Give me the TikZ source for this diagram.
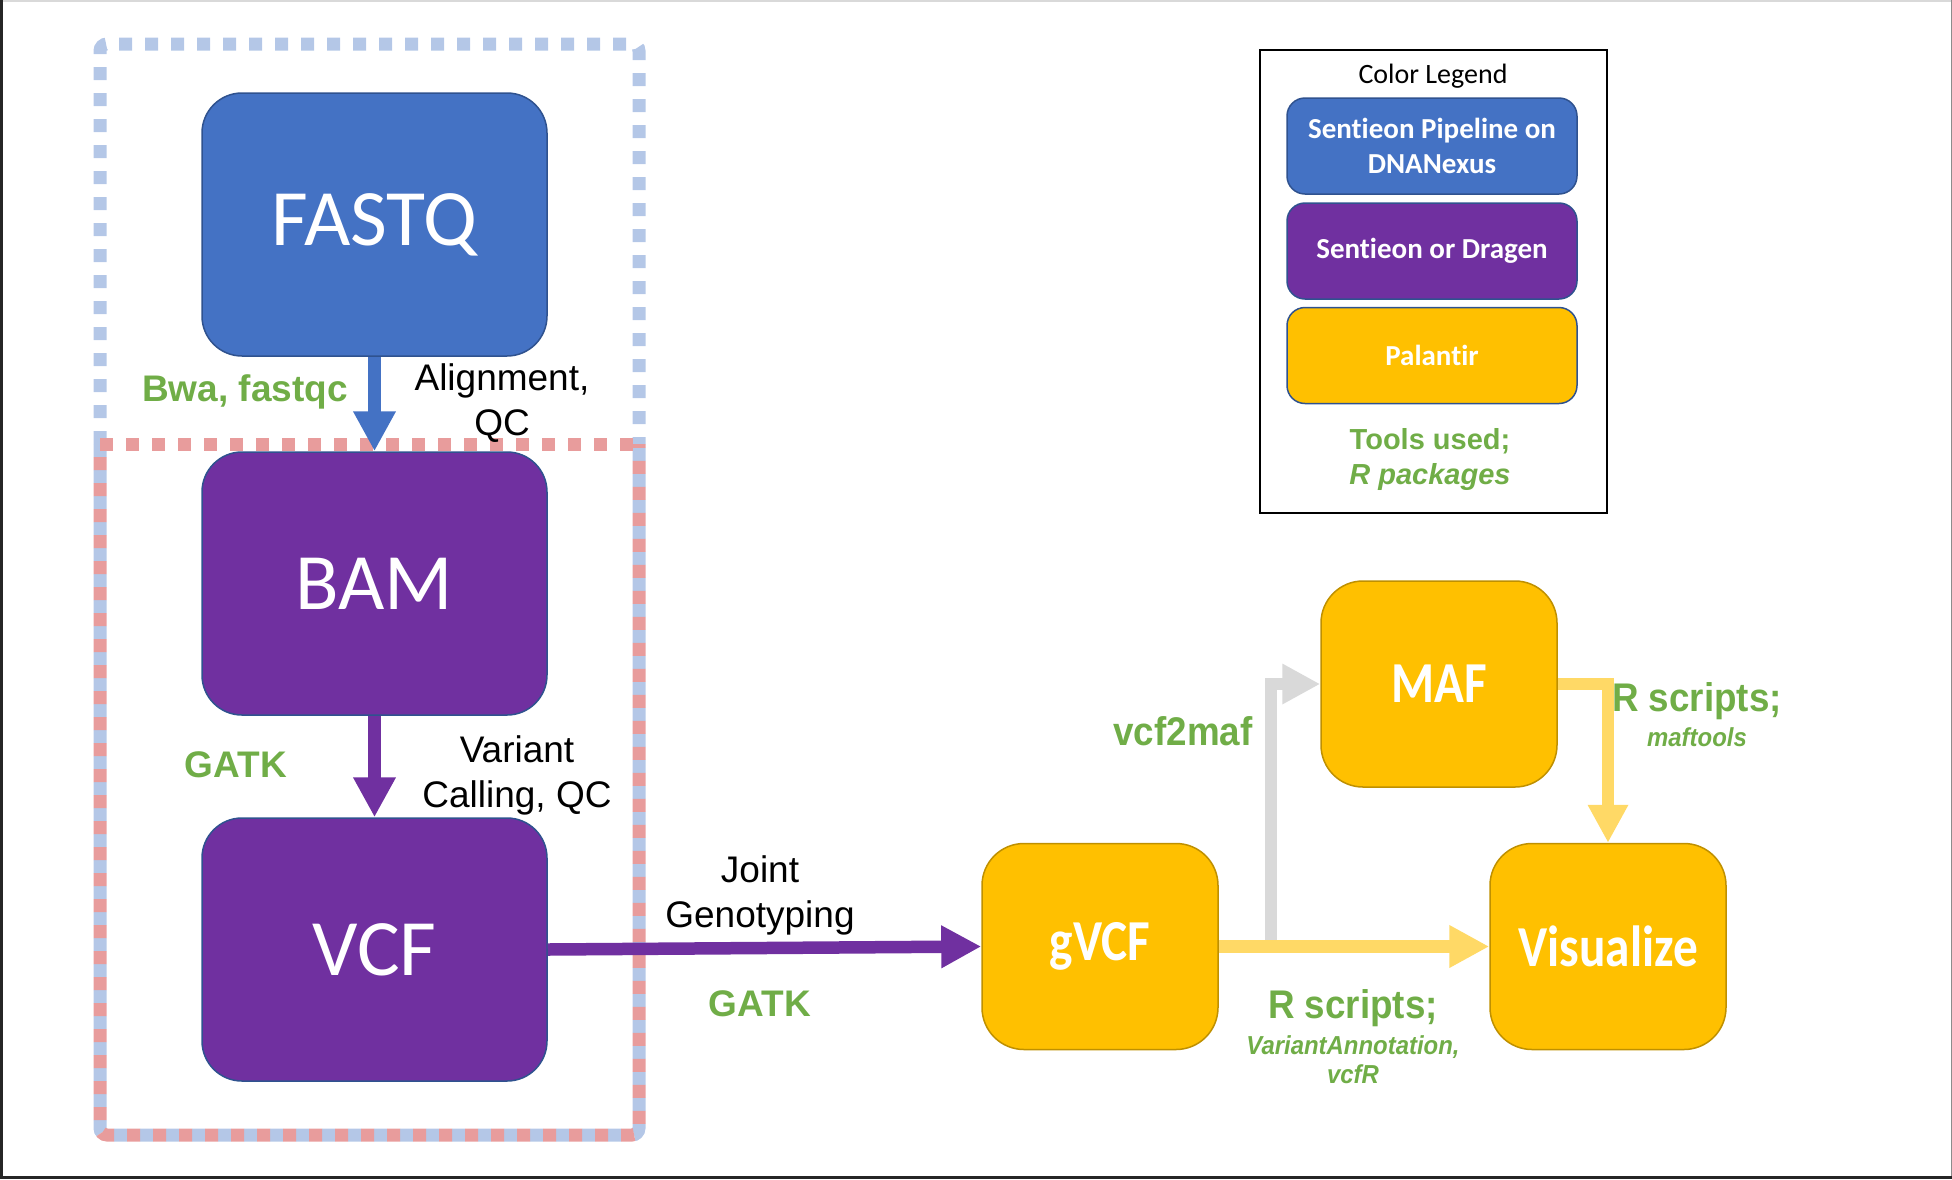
\documentclass[tikz,border=0pt]{standalone}
\usepackage{fontspec}
\setmainfont{Liberation Sans}
\newfontfamily\calfont[Ligatures={NoCommon}]{Carlito}
\newfontfamily\calnarrow[FakeStretch=0.85,Ligatures={NoCommon}]{Carlito}
\newfontfamily\arnarrow[FakeStretch=0.92]{Liberation Sans}
\usetikzlibrary{arrows.meta}
\definecolor{cblue}{HTML}{4472C4}
\definecolor{cpurple}{HTML}{7030A0}
\definecolor{cyellow}{HTML}{FFC000}
\definecolor{cgreen}{HTML}{70AD47}
\definecolor{lyellow}{HTML}{FFD966}
\definecolor{lgray}{HTML}{D9D9D9}
\definecolor{bdblue}{HTML}{2F528F}
\definecolor{bdgold}{HTML}{BF9000}
\definecolor{dashblue}{HTML}{B4C7E7}
\definecolor{dashred}{HTML}{E89C9C}
\tikzset{
  bigbox/.style={rounded corners=40pt, minimum width=345pt, minimum height=263pt, draw=bdblue, line width=1.5pt, text=white, font=\calfont\fontsize{80}{96}\selectfont, inner sep=0pt},
  ybox/.style={rounded corners=42pt, minimum width=236pt, minimum height=206pt, fill=cyellow, draw=bdgold, line width=1.5pt, text=white, font=\calnarrow\bfseries\fontsize{58}{70}\selectfont, inner sep=0pt},
  legbox/.style={rounded corners=18pt, minimum width=290pt, minimum height=96pt, draw=bdblue, line width=1.5pt, text=white, font=\calfont\bfseries\fontsize{29}{35}\selectfont, align=center, inner sep=0pt},
  blk/.style={font=\fontsize{37}{45}\selectfont, align=center, inner sep=0pt},
  grn/.style={text=cgreen, font=\bfseries\fontsize{37}{45}\selectfont, align=center, inner sep=0pt},
  grnn/.style={text=cgreen, font=\arnarrow\bfseries\fontsize{40}{46}\selectfont, align=center, inner sep=0pt},
  grni/.style={text=cgreen, font=\arnarrow\bfseries\itshape\fontsize{26}{30}\selectfont, align=center, inner sep=0pt},
  conn/.style={line width=12.5pt, -{Triangle[length=40pt,width=40pt]}},
  dashln/.style={line width=13pt, dash pattern=on 13pt off 13pt, rounded corners=7pt},
}
\begin{document}
\begin{tikzpicture}[x=1pt,y=-1pt]
\useasboundingbox (0,0) rectangle (1952,1179);
% frame
\draw[black!15, line width=1.5pt] (0,0.75) -- (1952,0.75);
\draw[black!45, line width=1.5pt] (1951.25,0) -- (1951.25,1179);
\draw[black!85, line width=3pt] (1.5,0) -- (1.5,1177.5) -- (1952,1177.5);
% dashed group frames
\draw[dashln, draw=dashblue] (100,444) -- (100,44) -- (639,44) -- (639,444);
\draw[dashln, draw=dashblue] (100,444) -- (100,1135) -- (639,1135) -- (639,444);
\draw[dashln, draw=dashred, dash phase=13pt] (100,444) -- (100,1135) -- (639,1135) -- (639,444);
\draw[dashln, draw=dashred] (100,444) -- (639,444);
% main nodes
\node[bigbox, fill=cblue] (fastq) at (374.5,224.5) {FASTQ};
\node[bigbox, fill=cpurple] (bam) at (374.5,583.5) {BAM};
\node[bigbox, fill=cpurple] (vcf) at (374.5,949.5) {VCF};
\node[ybox] (gvcf) at (1100,946.5) {gVCF};
\node[ybox] (maf) at (1439,684) {MAF};
\node[ybox] (vis) at (1608,946.5) {Visualize};
% connectors
\draw[conn, draw=cblue] (fastq.south) -- (bam.north);
\draw[conn, draw=cpurple] (bam.south) -- (vcf.north);
\draw[conn, draw=cpurple] (vcf.east) -- (gvcf.west);
\coordinate (gstart) at (1271,947);
\draw[conn, draw=lgray, -{Triangle[length=38pt,width=38pt]}] (gstart) |- (maf.west);
\draw[conn, draw=lyellow] (gvcf.east) -- (vis.west);
\draw[conn, draw=lyellow, -{Triangle[length=38pt,width=38pt]}] (maf.east) -| (vis.north);
% labels
\node[grn] (l1) at (245,392) {Bwa, fastqc};
\node[blk] (l2) at (502,403) {Alignment,\\QC};
\node[grn] (l3) at (236,765) {GATK};
\node[blk] (l4) at (517,775) {Variant\\Calling, QC};
\node[blk] (l5) at (760,895) {Joint\\Genotyping};
\node[grn] (l6) at (760,1004) {GATK};
\node[grnn] (l7) at (1183,731) {vcf2maf};
\node[grnn] (l8) at (1697,701) {R scripts;};
\node[grni] (l9) at (1697,737) {maftools};
\node[grnn] (l10) at (1353,1008) {R scripts;};
\node[grni, font=\arnarrow\bfseries\itshape\fontsize{26}{29}\selectfont] (l11) at (1353,1060) {VariantAnnotation,\\vcfR};
% legend
\node[draw=black, line width=2pt, minimum width=347pt, minimum height=463pt, inner sep=0pt] (legend) at (1433.5,281.5) {};
\node[font=\calfont\fontsize{28}{34}\selectfont, inner sep=0pt] (legtitle) at (1433,76) {Color Legend};
\node[legbox, fill=cblue] (leg1) at (1432,146) {Sentieon Pipeline on\\DNANexus};
\node[legbox, fill=cpurple] (leg2) at (1432,251) {Sentieon or Dragen};
\node[legbox, fill=cyellow] (leg3) at (1432,355.5) {Palantir};
\node[text=cgreen, font=\bfseries\fontsize{29}{35}\selectfont, align=center, inner sep=0pt] (legtools) at (1430,459) {Tools used;\\\itshape R packages};
\end{tikzpicture}
\end{document}
